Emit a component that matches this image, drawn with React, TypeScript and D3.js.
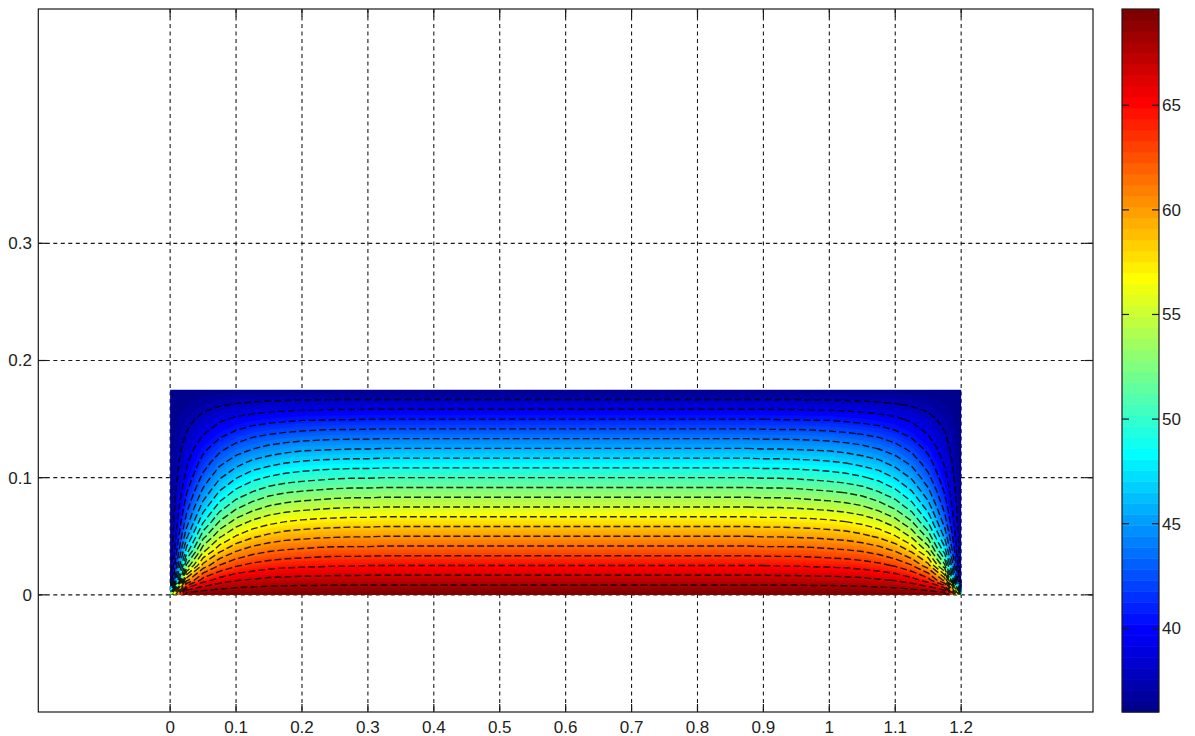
import React from 'react';
import * as d3 from 'd3';

const W = 1195;
const H = 736;

// tick values
const xTicks = [0, 0.1, 0.2, 0.3, 0.4, 0.5, 0.6, 0.7, 0.8, 0.9, 1, 1.1, 1.2];
const yTicks = [0, 0.1, 0.2, 0.3];
const cbTicks = [40, 45, 50, 55, 60, 65];

// temperature field. Nodes every 0.025 in x and 0.0125 in y,
// rows from y = 0 (hot edge) up to y = 0.175
const colorLimits = [36, 69.6];
const centerProfile = [69.6, 67.2, 64.8, 62.4, 60.0, 57.6, 55.2, 52.8, 50.4, 48.0, 45.6, 43.2, 40.8, 38.4, 36.0];
// left end, x = 0 .. 0.3 (right end is its mirror)
const edgeRows = [
  [52.8, 69.6, 69.6, 69.6, 69.6, 69.6, 69.6, 69.6, 69.6, 69.6, 69.6, 69.6, 69.6],
  [36.0, 59.5, 64.0, 65.5, 66.3, 66.6, 66.9, 67.0, 67.1, 67.1, 67.2, 67.2, 67.2],
  [36.0, 52.4, 59.0, 61.7, 63.0, 63.7, 64.1, 64.4, 64.5, 64.6, 64.7, 64.7, 64.8],
  [36.0, 48.0, 54.8, 58.1, 59.9, 60.9, 61.5, 61.8, 62.0, 62.2, 62.3, 62.3, 62.3],
  [36.0, 45.2, 51.4, 54.9, 56.9, 58.1, 58.8, 59.3, 59.5, 59.7, 59.8, 59.9, 59.9],
  [36.0, 43.2, 48.6, 52.1, 54.2, 55.5, 56.3, 56.8, 57.1, 57.3, 57.4, 57.5, 57.5],
  [36.0, 41.8, 46.4, 49.6, 51.6, 52.9, 53.8, 54.3, 54.6, 54.8, 55.0, 55.1, 55.1],
  [36.0, 40.7, 44.5, 47.4, 49.3, 50.5, 51.4, 51.9, 52.2, 52.4, 52.6, 52.7, 52.7],
  [36.0, 39.7, 42.9, 45.4, 47.1, 48.3, 49.0, 49.5, 49.8, 50.0, 50.2, 50.3, 50.3],
  [36.0, 39.0, 41.5, 43.6, 45.0, 46.1, 46.7, 47.2, 47.5, 47.7, 47.8, 47.9, 47.9],
  [36.0, 38.3, 40.3, 41.9, 43.1, 43.9, 44.5, 44.9, 45.2, 45.3, 45.4, 45.5, 45.5],
  [36.0, 37.7, 39.1, 40.3, 41.2, 41.9, 42.3, 42.6, 42.8, 43.0, 43.1, 43.1, 43.1],
  [36.0, 37.1, 38.1, 38.9, 39.5, 39.9, 40.2, 40.4, 40.6, 40.6, 40.7, 40.7, 40.8],
  [36.0, 36.5, 37.0, 37.4, 37.7, 37.9, 38.1, 38.2, 38.3, 38.3, 38.4, 38.4, 38.4],
  [36.0, 36.0, 36.0, 36.0, 36.0, 36.0, 36.0, 36.0, 36.0, 36.0, 36.0, 36.0, 36.0],
];
const contourLevels = [37.6, 39.2, 40.8, 42.4, 44.0, 45.6, 47.2, 48.8, 50.4, 52.0,
  53.6, 55.2, 56.8, 58.4, 60.0, 61.6, 63.2, 64.8, 66.4, 68.0];

const xStep = 0.025;
const yStep = 0.0125;
const nx = 49;
const ny = centerProfile.length;
const plateW = 1.2;
const plateH = 0.175;

// MATLAB jet(64)
const jet = (i: number) => {
  const u = (k: number) => (k < 1 || k > 47 ? 0 : k <= 16 ? k / 16 : k <= 31 ? 1 : (48 - k) / 16);
  const idx = i + 1;
  const c = (v: number) => Math.round(v * 255);
  return `rgb(${c(u(idx - 24))},${c(u(idx - 8))},${c(u(idx + 8))})`;
};

const buildGrid = () => {
  const vals: number[] = [];
  for (let r = 0; r < ny; r++) {
    for (let j = 0; j < nx; j++) {
      if (j <= 12) vals.push(edgeRows[r][j]);
      else if (j >= nx - 13) vals.push(edgeRows[r][nx - 1 - j]);
      else vals.push(centerProfile[r]);
    }
  }
  return vals;
};

export default function App() {
  const margin = { left: 38.3, right: 1093, top: 9, bottom: 712 };
  const x = d3.scaleLinear().domain([-0.2, 1.4]).range([margin.left, margin.right]);
  const y = d3.scaleLinear().domain([-0.1, 0.5]).range([margin.bottom, margin.top]);

  const values = buildGrid();
  const toPx = d3.geoTransform({
    point(gx: number, gy: number) {
      // @ts-ignore
      this.stream.point(x((gx - 0.5) * xStep), y((gy - 0.5) * yStep));
    },
  });
  const path = d3.geoPath(toPx);

  const nColors = 64;
  const [cmin, cmax] = colorLimits;
  const bandEdges = d3.range(nColors).map((i) => cmin + (i * (cmax - cmin)) / nColors);
  const bands = d3.contours().size([nx, ny]).thresholds(bandEdges)(values);
  const lines = d3.contours().size([nx, ny]).thresholds(contourLevels)(values);

  const cb = { x0: 1122, x1: 1159 };
  const cy = d3.scaleLinear().domain([cmin, cmax]).range([margin.bottom, margin.top]);

  const axisColor = '#1a1a1a';
  const font = { fontFamily: '"Liberation Sans", Arial, sans-serif', fontSize: 17, fill: '#222' };
  const tickLen = 8;

  return (
    <div style={{ position: 'absolute', left: 0, top: 0 }}>
      <svg width={W} height={H} style={{ display: 'block', background: '#fff' }}>
        <defs>
          <clipPath id="plate">
            <rect x={x(0)} y={y(plateH)} width={x(plateW) - x(0)} height={y(0) - y(plateH)} />
          </clipPath>
        </defs>

        {/* grid */}
        <g stroke={axisColor} strokeWidth={1.1} strokeDasharray="4,3.5">
          {xTicks.map((t) => (
            <line key={'gx' + t} x1={x(t)} x2={x(t)} y1={margin.top} y2={margin.bottom} />
          ))}
          {yTicks.map((t) => (
            <line key={'gy' + t} x1={margin.left} x2={margin.right} y1={y(t)} y2={y(t)} />
          ))}
        </g>

        {/* field */}
        <g clipPath="url(#plate)">
          {bands.map((b, i) => (
            <path key={'b' + i} d={path(b as any) || ''} fill={jet(i)} stroke={jet(i)} strokeWidth={0.6} />
          ))}
          {lines.map((l, i) => (
            <path key={'l' + i} d={path(l as any) || ''} fill="none" stroke="#000" strokeOpacity={0.85}
              strokeWidth={1.4} strokeDasharray="7,3" />
          ))}
        </g>

        {/* axes box and ticks */}
        <rect x={margin.left} y={margin.top} width={margin.right - margin.left}
          height={margin.bottom - margin.top} fill="none" stroke={axisColor} strokeWidth={1.2} />
        <g stroke={axisColor} strokeWidth={1.2}>
          {xTicks.map((t) => (
            <g key={'tx' + t}>
              <line x1={x(t)} x2={x(t)} y1={margin.bottom} y2={margin.bottom - tickLen} />
              <line x1={x(t)} x2={x(t)} y1={margin.top} y2={margin.top + tickLen} />
            </g>
          ))}
          {yTicks.map((t) => (
            <g key={'ty' + t}>
              <line x1={margin.left} x2={margin.left + tickLen} y1={y(t)} y2={y(t)} />
              <line x1={margin.right} x2={margin.right - tickLen} y1={y(t)} y2={y(t)} />
            </g>
          ))}
        </g>
        <g style={font}>
          {xTicks.map((t) => (
            <text key={'lx' + t} x={x(t)} y={733} textAnchor="middle">{String(t)}</text>
          ))}
          {yTicks.map((t) => (
            <text key={'ly' + t} x={32} y={y(t)} dy="0.35em" textAnchor="end">{String(t)}</text>
          ))}
        </g>

        {/* colorbar */}
        <g>
          {d3.range(nColors).map((i) => (
            <rect key={'c' + i} x={cb.x0} width={cb.x1 - cb.x0}
              y={cy(bandEdges[i] + (cmax - cmin) / nColors)}
              height={cy(bandEdges[i]) - cy(bandEdges[i] + (cmax - cmin) / nColors) + 0.5}
              fill={jet(i)} />
          ))}
          <rect x={cb.x0} y={margin.top} width={cb.x1 - cb.x0} height={margin.bottom - margin.top}
            fill="none" stroke={axisColor} strokeWidth={1.2} />
          <g stroke={axisColor} strokeWidth={1.2}>
            {cbTicks.map((t) => (
              <g key={'ct' + t}>
                <line x1={cb.x0} x2={cb.x0 + 7} y1={cy(t)} y2={cy(t)} />
                <line x1={cb.x1} x2={cb.x1 - 7} y1={cy(t)} y2={cy(t)} />
              </g>
            ))}
          </g>
          <g style={font}>
            {cbTicks.map((t) => (
              <text key={'cl' + t} x={cb.x1 + 3} y={cy(t)} dy="0.35em">{String(t)}</text>
            ))}
          </g>
        </g>
      </svg>
    </div>
  );
}
